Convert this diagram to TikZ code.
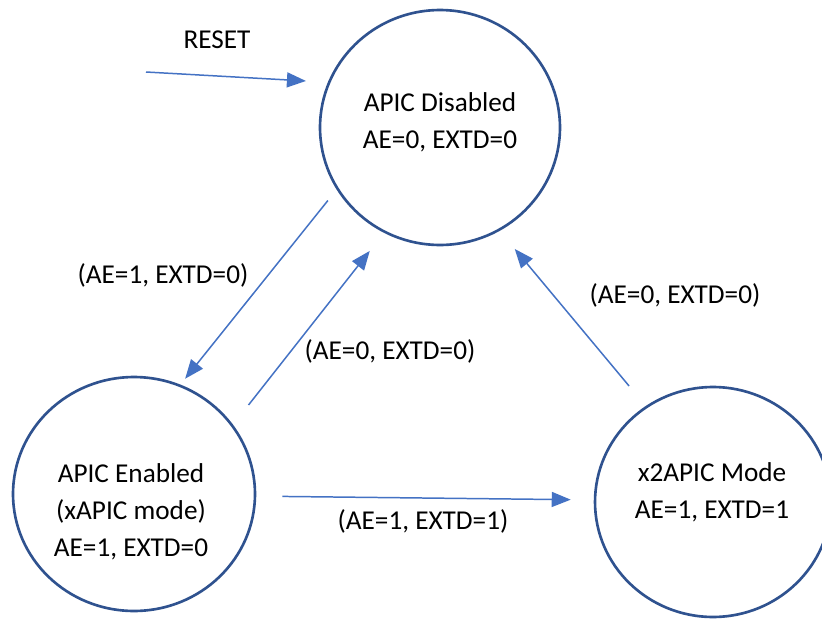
\documentclass[tikz,border=0pt]{standalone}
\usepackage{fontspec}
\setmainfont{Carlito}
\usetikzlibrary{shapes.geometric,arrows.meta}
\definecolor{APRing}{HTML}{2F528F}
\definecolor{APArrow}{HTML}{4472C4}

\begin{document}
\begin{tikzpicture}[x=0.02cm,y=-0.02cm,
  state/.style={ellipse,draw=APRing,line width=1.5pt,inner sep=0pt},
  statetext/.style={align=center,font=\fontsize{15.5}{21}\selectfont},
  lbl/.style={font=\fontsize{15.5}{21}\selectfont},
  trans/.style={draw=APArrow,line width=.85pt,-{Triangle[length=0.38cm,width=0.3cm]}}]
\path[use as bounding box] (0,0) rectangle (822,619);
\fill[white] (0,0) rectangle (822,619);
\node[state,minimum width=4.8cm,minimum height=4.7cm] (dis) at (440,127.5) {};
\node[state,minimum width=4.84cm,minimum height=4.68cm] (ena) at (134,494) {};
\node[state,minimum width=4.72cm,minimum height=4.6cm] (x2) at (713,502) {};
\node[statetext] (disT) at (440,122) {APIC Disabled\\AE=0, EXTD=0};
\node[statetext] (enaT) at (131,512) {APIC Enabled\\(xAPIC mode)\\AE=1, EXTD=0};
\node[statetext] (x2T) at (712,492) {x2APIC Mode\\AE=1, EXTD=1};
\node[lbl] (rstL) at (217,40) {RESET};
\node[lbl] (l1) at (163,275) {(AE=1, EXTD=0)};
\node[lbl] (l2) at (390,351) {(AE=0, EXTD=0)};
\node[lbl] (l3) at (675,295) {(AE=0, EXTD=0)};
\node[lbl] (l4) at (423,521) {(AE=1, EXTD=1)};
\coordinate (rst) at (146,72);
\draw[trans,shorten >=0.44cm] (rst) -- (dis.158);
\draw[trans,shorten <=0.28cm,shorten >=0.15cm] (dis.211) -- (ena.67);
\draw[trans,shorten <=0.5cm,shorten >=0.46cm] (ena.35) -- (dis.242);
\draw[trans,shorten <=0.52cm,shorten >=0.47cm] (x2.125) -- (dis.300);
\draw[trans,shorten <=0.52cm,shorten >=0.46cm] (ena.-1) -- (x2.179);
\end{tikzpicture}
\end{document}
